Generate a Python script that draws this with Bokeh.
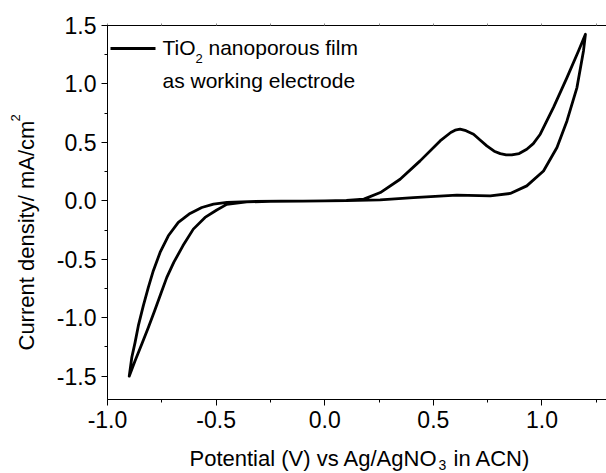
from bokeh.plotting import figure
from bokeh.layouts import row, column
from bokeh.models import (Range1d, LinearAxis, SingleIntervalTicker, FixedTicker,
                          PrintfTickFormatter, Label, Arrow)
from bokeh.core.properties import value
from bokeh.embed import file_html
from bokeh.resources import INLINE
import numpy as np
import math

# Cyclic voltammogram of a TiO2 nanoporous film (working electrode)
# Positive-going sweep: from the cathodic vertex up to the anodic vertex
fwd_potential = [-0.900, -0.888, -0.873, -0.858, -0.835, -0.812, -0.789, -0.758,
                 -0.720, -0.674, -0.620, -0.566, -0.512, -0.450, -0.350, -0.200,
                 0.000, 0.100, 0.180, 0.256, 0.347, 0.439, 0.531, 0.580,
                 0.600, 0.623, 0.650, 0.685, 0.715, 0.746, 0.780, 0.808,
                 0.835, 0.861, 0.895, 0.930, 0.960, 0.992, 1.053, 1.115,
                 1.168, 1.200]
fwd_current = [-1.500, -1.339, -1.211, -1.068, -0.897, -0.741, -0.598, -0.442,
               -0.299, -0.185, -0.108, -0.057, -0.028, -0.014, -0.006, -0.003,
               0.000, 0.003, 0.015, 0.071, 0.185, 0.342, 0.513, 0.585,
               0.605, 0.613, 0.600, 0.570, 0.520, 0.470, 0.425, 0.404,
               0.394, 0.393, 0.405, 0.442, 0.490, 0.570, 0.800, 1.054,
               1.282, 1.425]

# Negative-going sweep: back from the anodic vertex to the cathodic vertex
rev_potential = [1.200, 1.191, 1.161, 1.115, 1.069, 1.007, 0.930, 0.854,
                 0.762, 0.608, 0.408, 0.255, 0.100, -0.100, -0.250, -0.359,
                 -0.451, -0.497, -0.551, -0.605, -0.653, -0.695, -0.727,
                 -0.755, -0.783, -0.812, -0.842, -0.873, -0.900]
rev_current = [1.425, 1.282, 0.969, 0.684, 0.456, 0.256, 0.128, 0.063,
               0.043, 0.049, 0.028, 0.009, 0.002, -0.002, -0.005, -0.009,
               -0.030, -0.078, -0.142, -0.242, -0.385, -0.527, -0.655,
               -0.798, -0.940, -1.083, -1.225, -1.368, -1.500]

x_tick_step = 0.5
y_tick_step = 0.5

x_title = ["Potential (V) vs Ag/AgNO", "3", "in ACN)"]
y_title = ["Current density/ mA/cm", "2"]
legend_text = ["TiO", "2", "nanoporous film", "as working electrode"]

FONT = "Liberation Sans"

YT_W = 50      # width of the strip holding the vertical title
XT_H = 33      # height of the strip holding the horizontal title
MAIN_W = 606 - YT_W
MAIN_H = 473 - XT_H


def bare(width, height):
    """A blank svg figure whose data units are its own pixels."""
    f = figure(width=width, height=height, output_backend="svg", toolbar_location=None,
               x_range=Range1d(0, width), y_range=Range1d(0, height),
               x_axis_type=None, y_axis_type=None, min_border=0,
               frame_align=False)
    f.outline_line_color = None
    f.xgrid.visible = False
    f.ygrid.visible = False
    return f


def put(f, txt, x, y, size, angle=0.0):
    f.text(x=[x], y=[y], text=[txt], angle=angle, text_font=value(FONT),
           text_font_size=value(size), text_color="black",
           text_align="left", text_baseline="alphabetic")


# ---- main plot -------------------------------------------------------------
p = figure(width=MAIN_W, height=MAIN_H, output_backend="svg", toolbar_location=None,
           x_range=Range1d(-1.0, 1.297), y_range=Range1d(-1.70, 1.5005),
           min_border_left=107 - YT_W, min_border_right=0, min_border_top=25,
           min_border_bottom=MAIN_H - 399, frame_align=False)
p.outline_line_color = None
p.xgrid.visible = False
p.ygrid.visible = False

p.line(fwd_potential + rev_potential[1:], fwd_current + rev_current[1:],
       line_color="black", line_width=2.8, line_join="round", line_cap="round")

for ax, step in ((p.xaxis[0], x_tick_step), (p.yaxis[0], y_tick_step)):
    ax.ticker = SingleIntervalTicker(interval=step, num_minor_ticks=2)
    ax.formatter = PrintfTickFormatter(format="%.1f")
    ax.major_label_text_font = FONT
    ax.major_label_text_font_size = "23px"
    ax.major_label_text_color = "black"
    ax.axis_line_color = "black"
    ax.major_tick_line_color = "black"
    ax.minor_tick_line_color = "black"
    ax.major_tick_in = 0
    ax.major_tick_out = 6
    ax.minor_tick_in = 0
    ax.minor_tick_out = 3
    ax.major_label_standoff = 5

# top border: plain line with tiny unlabeled ticks
top_minor = list(np.arange(-1.0, 1.3, x_tick_step / 2))
top = LinearAxis(ticker=FixedTicker(ticks=[], minor_ticks=top_minor),
                 axis_line_color="black", minor_tick_line_color="#888888",
                 minor_tick_in=0, minor_tick_out=2)
p.add_layout(top, "above")

# legend entry (line sample + two-line label with subscript)
p.add_layout(Arrow(end=None, x_start=3, y_start=351, x_end=48, y_end=351,
                   start_units="screen", end_units="screen",
                   line_color="black", line_width=3))


def lab(txt, x, y, size):
    p.add_layout(Label(text=txt, x=x, y=y, x_units="screen", y_units="screen",
                       text_font=FONT, text_font_size=size, text_color="black",
                       text_align="left", text_baseline="alphabetic"))


lab(legend_text[0], 55, 352, "21px")
lab(legend_text[1], 88, 341, "13px")
lab(legend_text[2], 101, 352, "21px")
lab(legend_text[3], 55, 319, "21px")

# ---- axis titles -----------------------------------------------------------
ytitle = bare(YT_W, 473)
put(ytitle, y_title[0], 26, 473 - 350, "22px", angle=math.pi / 2)
put(ytitle, y_title[1], 15, 473 - 121, "13px", angle=math.pi / 2)

xtitle = bare(MAIN_W, XT_H)
put(xtitle, x_title[0], 189 - YT_W, 15, "22px")
put(xtitle, x_title[1], 438 - YT_W, 9, "14px")
put(xtitle, x_title[2], 453 - YT_W, 15, "22px")

layout = row(ytitle, column(p, xtitle, spacing=0), spacing=0)

open("out.html", "w").write(file_html(layout, INLINE))
